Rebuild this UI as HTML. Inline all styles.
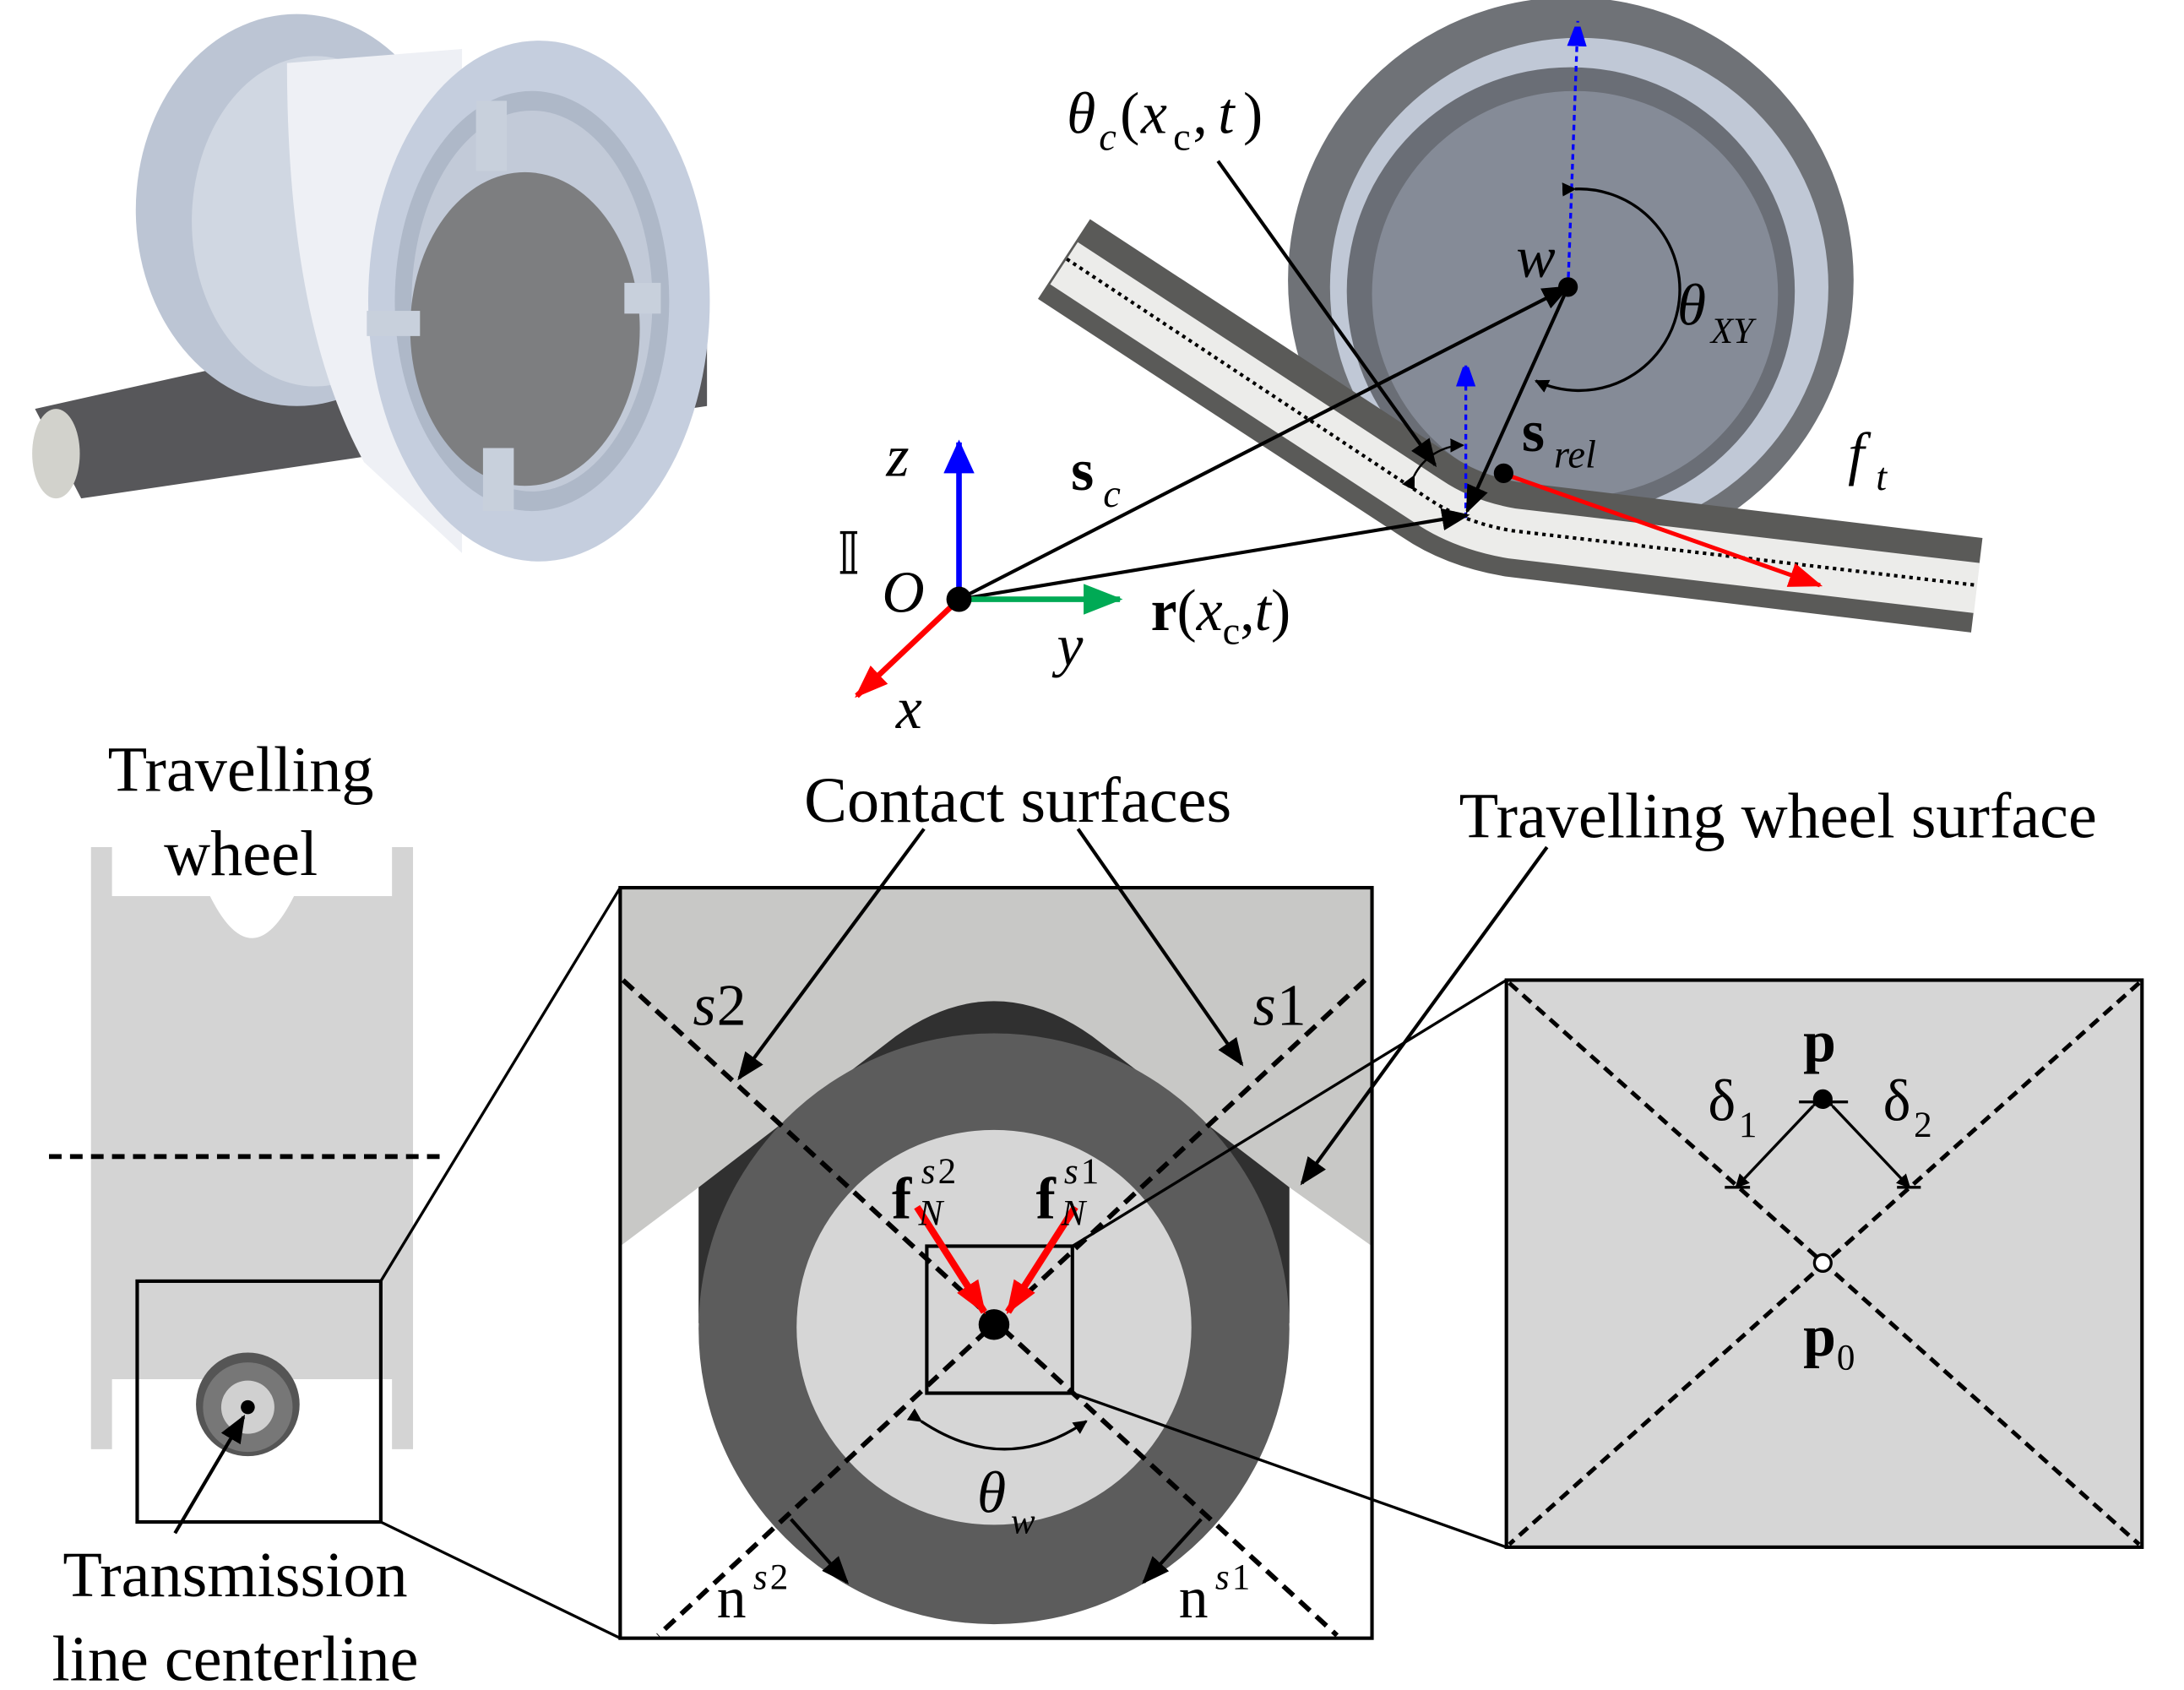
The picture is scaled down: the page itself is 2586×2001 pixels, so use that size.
<!DOCTYPE html>
<html><head><meta charset="utf-8"><style>
html,body{margin:0;padding:0;background:#fff;}
svg{display:block;}
text{font-family:"Liberation Serif",serif;}
</style></head><body>
<svg width="2586" height="2001" viewBox="0 0 1560 1207" preserveAspectRatio="none" xmlns="http://www.w3.org/2000/svg">
<defs>
<marker id="ak" markerWidth="10" markerHeight="10" refX="9" refY="5" orient="auto" markerUnits="userSpaceOnUse"><path d="M0,0 L10,5 L0,10 z" fill="#000"/></marker>
<marker id="akL" markerWidth="20" markerHeight="16" refX="18" refY="8" orient="auto" markerUnits="userSpaceOnUse"><path d="M0,0 L20,8 L0,16 z" fill="#000"/></marker>
<marker id="ar" markerWidth="24" markerHeight="18" refX="22" refY="9" orient="auto" markerUnits="userSpaceOnUse"><path d="M0,0 L24,9 L0,18 z" fill="#f00"/></marker>
<marker id="ab" markerWidth="24" markerHeight="22" refX="22" refY="11" orient="auto" markerUnits="userSpaceOnUse"><path d="M0,0 L24,11 L0,22 z" fill="#00f"/></marker>
<marker id="ag" markerWidth="28" markerHeight="22" refX="26" refY="11" orient="auto" markerUnits="userSpaceOnUse"><path d="M0,0 L28,11 L0,22 z" fill="#0a5"/></marker>
<marker id="abs" markerWidth="14" markerHeight="20" refX="18" refY="7" orient="auto" markerUnits="userSpaceOnUse"><path d="M0,0 L20,7 L0,14 z" fill="#00f"/></marker>
</defs>

<!-- Top-left 3D wheel -->
<path d="M25,292 L505,185 L505,290 L58,356 Z" fill="#57575a"/>
<ellipse cx="40" cy="324" rx="17" ry="32" fill="#d2d2cc"/>
<ellipse cx="212" cy="150" rx="115" ry="140" fill="#bcc5d4"/>
<ellipse cx="225" cy="158" rx="88" ry="118" fill="#d0d7e2"/>
<path d="M205,45 L330,35 L330,395 L260,330 Q205,230 205,45 Z" fill="#eef0f5"/>
<ellipse cx="385" cy="215" rx="122" ry="186" fill="#c5cede"/>
<ellipse cx="380" cy="215" rx="98" ry="150" fill="#aeb8c8"/>
<ellipse cx="380" cy="215" rx="86" ry="136" fill="#c2cad8"/>
<ellipse cx="375" cy="235" rx="82" ry="112" fill="#7d7e80"/>
<rect x="340" y="72" width="22" height="50" fill="#c8d0dc"/>
<rect x="262" y="222" width="38" height="18" fill="#c8d0dc"/>
<rect x="446" y="202" width="26" height="22" fill="#c8d0dc"/>
<rect x="345" y="320" width="22" height="45" fill="#c8d0dc"/>

<!-- Top-right wheel -->
<circle cx="1122" cy="200" r="202" fill="#6f7277"/>
<circle cx="1128" cy="205" r="178" fill="#c0c8d6"/>
<circle cx="1122" cy="208" r="160" fill="#6a6e76"/>
<circle cx="1125" cy="210" r="145" fill="#858b97"/>
<!-- cable -->
<path d="M760,185 L1020,355 Q1045,372 1080,378 L1412,418" fill="none" stroke="#5a5a58" stroke-width="68"/>
<path d="M760,188 L1020,358 Q1045,375 1080,381 L1412,420" fill="none" stroke="#ececea" stroke-width="36"/>
<path d="M762,185 L1020,356 Q1045,373 1080,379 L1412,418" fill="none" stroke="#000" stroke-width="2.5" stroke-dasharray="2.5,3"/>

<!-- vectors top -->
<line x1="1120" y1="205" x2="1127" y2="15" stroke="#00f" stroke-width="2" stroke-dasharray="4,3" marker-end="url(#abs)"/>
<line x1="1047" y1="370" x2="1047" y2="258" stroke="#00f" stroke-width="2" stroke-dasharray="4,3" marker-end="url(#abs)"/>
<line x1="685" y1="428" x2="1120" y2="205" stroke="#000" stroke-width="2.5" marker-end="url(#akL)"/>
<line x1="685" y1="428" x2="1048" y2="368" stroke="#000" stroke-width="2.5" marker-end="url(#akL)"/>
<line x1="1120" y1="205" x2="1048" y2="365" stroke="#000" stroke-width="2.5" marker-end="url(#akL)"/>
<line x1="1073" y1="338" x2="1300" y2="418" stroke="#f00" stroke-width="3" marker-end="url(#ar)"/>
<line x1="870" y1="115" x2="1025" y2="332" stroke="#000" stroke-width="2.5" marker-end="url(#akL)"/>
<path d="M1125,135 A72,72 0 1,1 1097,272" fill="none" stroke="#000" stroke-width="2" marker-start="url(#ak)" marker-end="url(#ak)"/>
<path d="M1010,340 A40,40 0 0,1 1045,318" fill="none" stroke="#000" stroke-width="1.5" marker-start="url(#ak)" marker-end="url(#ak)"/>
<circle cx="1120" cy="205" r="7" fill="#000"/>
<circle cx="1074" cy="338" r="7" fill="#000"/>

<!-- axes -->
<line x1="685" y1="428" x2="685" y2="316" stroke="#00f" stroke-width="4" marker-end="url(#ab)"/>
<line x1="685" y1="428" x2="800" y2="428" stroke="#0a5" stroke-width="4" marker-end="url(#ag)"/>
<line x1="685" y1="428" x2="612" y2="497" stroke="#f00" stroke-width="4" marker-end="url(#ar)"/>
<circle cx="685" cy="428" r="9" fill="#000"/>

<g font-size="42" font-style="italic">
<text x="762" y="95">θ</text><text x="785" y="107" font-size="28">c</text><text x="800" y="95" font-style="normal">(</text><text x="815" y="95">x</text><text x="838" y="107" font-size="28" font-style="normal">c</text><text x="852" y="95" font-style="normal">,</text><text x="870" y="95">t</text><text x="888" y="95" font-style="normal">)</text>
<text x="1083" y="198">w</text>
<text x="1198" y="232">θ</text><text x="1222" y="245" font-size="26">XY</text>
<text x="1320" y="338">f</text><text x="1340" y="350" font-size="28">t</text>
<text x="633" y="340">z</text>
<text x="630" y="437">O</text>
<text x="755" y="475">y</text>
<text x="640" y="520">x</text>
</g>
<text x="598" y="410" font-size="42">𝕀</text>
<text x="765" y="350" font-size="42" font-weight="bold">s</text><text x="788" y="362" font-size="28" font-style="italic">c</text>
<text x="1087" y="322" font-size="42" font-weight="bold">s</text><text x="1110" y="334" font-size="28" font-style="italic">rel</text>
<text x="822" y="450" font-size="42"><tspan font-weight="bold">r</tspan>(<tspan font-style="italic">x</tspan><tspan font-size="28" dy="10">c</tspan><tspan dy="-10">,</tspan><tspan font-style="italic">t</tspan>)</text>

<!-- bottom-left profile -->
<path d="M65,605 L80,605 L80,640 L150,640 Q180,700 210,640 L280,640 L280,605 L295,605 L295,1035 L280,1035 L280,985 L80,985 L80,1035 L65,1035 Z" fill="#d4d4d4"/>
<line x1="35" y1="826" x2="318" y2="826" stroke="#000" stroke-width="3.5" stroke-dasharray="9,6"/>
<rect x="98" y="915" width="174" height="172" fill="none" stroke="#000" stroke-width="2.5"/>
<circle cx="177" cy="1003" r="37" fill="#555"/>
<circle cx="177" cy="1005" r="32" fill="#777"/>
<circle cx="177" cy="1005" r="19" fill="#d0d0d0"/>
<circle cx="177" cy="1005" r="5" fill="#000"/>
<line x1="125" y1="1095" x2="174" y2="1012" stroke="#000" stroke-width="2.5" marker-end="url(#akL)"/>
<line x1="272" y1="915" x2="443" y2="634" stroke="#000" stroke-width="2"/>
<line x1="272" y1="1087" x2="443" y2="1170" stroke="#000" stroke-width="2"/>
<g font-size="46" text-anchor="middle">
<text x="172" y="565">Travelling</text><text x="172" y="625">wheel</text>
<text x="168" y="1140">Transmission</text><text x="168" y="1200">line centerline</text>
<text x="727" y="587">Contact surfaces</text>
<text x="1270" y="598">Travelling wheel surface</text>
</g>

<!-- middle box -->
<rect x="443" y="634" width="537" height="536" fill="#fff"/>
<path d="M443,634 L980,634 L980,890 L921,848 L499,848 L443,890 Z" fill="#c8c8c6"/>
<path d="M499,945 L499,848 L640,740 Q710,690 780,740 L921,848 L921,945 Z" fill="#303030"/>
<circle cx="710" cy="949" r="211" fill="#5c5c5c"/>
<circle cx="710" cy="948" r="141" fill="#d6d6d6"/>
<rect x="443" y="634" width="537" height="536" fill="none" stroke="#000" stroke-width="2.5"/>
<g stroke="#000" stroke-width="3.5" stroke-dasharray="10,6">
<line x1="445" y1="700" x2="955" y2="1168"/>
<line x1="975" y1="700" x2="470" y2="1168"/>
</g>
<rect x="662" y="890" width="104" height="105" fill="none" stroke="#000" stroke-width="2.5"/>
<circle cx="710" cy="946" r="11" fill="#000"/>
<line x1="655" y1="862" x2="703" y2="937" stroke="#f00" stroke-width="5" marker-end="url(#ar)"/>
<line x1="768" y1="862" x2="720" y2="937" stroke="#f00" stroke-width="5" marker-end="url(#ar)"/>
<line x1="660" y1="592" x2="528" y2="770" stroke="#000" stroke-width="2.5" marker-end="url(#akL)"/>
<line x1="770" y1="592" x2="887" y2="760" stroke="#000" stroke-width="2.5" marker-end="url(#akL)"/>
<line x1="1105" y1="605" x2="930" y2="845" stroke="#000" stroke-width="2.5" marker-end="url(#akL)"/>
<path d="M658,1015 Q718,1055 776,1015" fill="none" stroke="#000" stroke-width="2" marker-start="url(#ak)" marker-end="url(#ak)"/>
<line x1="565" y1="1085" x2="605" y2="1130" stroke="#000" stroke-width="2.5" marker-end="url(#akL)"/>
<line x1="858" y1="1085" x2="817" y2="1130" stroke="#000" stroke-width="2.5" marker-end="url(#akL)"/>
<g font-size="42">
<text x="495" y="732" font-style="italic">s</text><text x="512" y="732">2</text>
<text x="895" y="732" font-style="italic">s</text><text x="912" y="732">1</text>
<text x="637" y="870" font-weight="bold">f</text><text x="658" y="845" font-size="26" font-style="italic">s</text><text x="670" y="845" font-size="26">2</text><text x="656" y="875" font-size="26" font-style="italic">N</text>
<text x="740" y="870" font-weight="bold">f</text><text x="760" y="845" font-size="26" font-style="italic">s</text><text x="772" y="845" font-size="26">1</text><text x="758" y="875" font-size="26" font-style="italic">N</text>
<text x="698" y="1080" font-style="italic">θ</text><text x="722" y="1095" font-size="26" font-style="italic">w</text>
<text x="512" y="1155">n</text><text x="538" y="1135" font-size="26" font-style="italic">s</text><text x="550" y="1135" font-size="26">2</text>
<text x="842" y="1155">n</text><text x="868" y="1135" font-size="26" font-style="italic">s</text><text x="880" y="1135" font-size="26">1</text>
</g>

<!-- zoom lines to right box -->
<line x1="766" y1="890" x2="1076" y2="700" stroke="#000" stroke-width="2"/>
<line x1="766" y1="995" x2="1076" y2="1105" stroke="#000" stroke-width="2"/>

<!-- right box -->
<rect x="1076" y="700" width="454" height="405" fill="#d6d6d6" stroke="#000" stroke-width="2.5"/>
<g stroke="#000" stroke-width="3" stroke-dasharray="8,5">
<line x1="1078" y1="702" x2="1528" y2="1103"/>
<line x1="1528" y1="702" x2="1078" y2="1103"/>
</g>
<circle cx="1302" cy="902" r="6" fill="#fff" stroke="#000" stroke-width="2"/>
<circle cx="1302" cy="785" r="7" fill="#000"/>
<line x1="1295" y1="790" x2="1240" y2="848" stroke="#000" stroke-width="2" marker-start="url(#ak)" marker-end="url(#ak)"/>
<line x1="1309" y1="790" x2="1364" y2="848" stroke="#000" stroke-width="2" marker-start="url(#ak)" marker-end="url(#ak)"/>
<line x1="1285" y1="787" x2="1320" y2="787" stroke="#000" stroke-width="2"/>
<line x1="1232" y1="848" x2="1250" y2="848" stroke="#000" stroke-width="2"/>
<line x1="1355" y1="848" x2="1372" y2="848" stroke="#000" stroke-width="2"/>
<g font-size="42">
<text x="1288" y="758" font-weight="bold">p</text>
<text x="1220" y="800">δ</text><text x="1242" y="812" font-size="26">1</text>
<text x="1345" y="800">δ</text><text x="1367" y="812" font-size="26">2</text>
<text x="1288" y="968" font-weight="bold">p</text><text x="1312" y="978" font-size="26">0</text>
</g>
</svg>
</body></html>
